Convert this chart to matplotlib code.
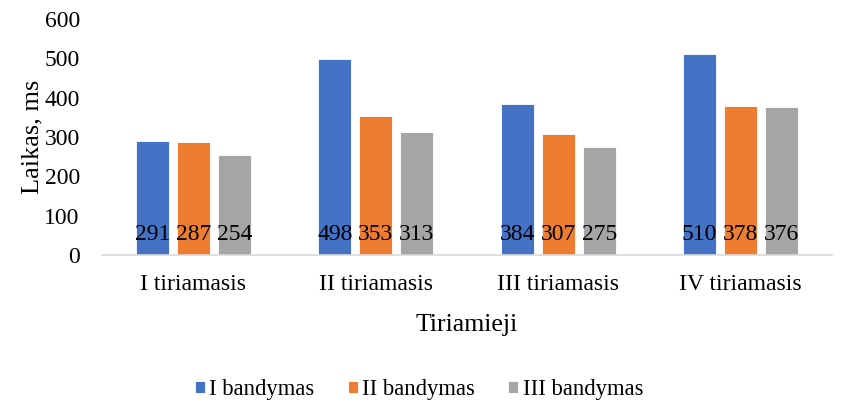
import matplotlib
matplotlib.use("Agg")
import matplotlib.pyplot as plt
import numpy as np

plt.rcParams['font.family'] = ['Liberation Serif', 'DejaVu Serif']

categories = ["I tiriamasis", "II tiriamasis", "III tiriamasis", "IV tiriamasis"]
series_names = ["I bandymas", "II bandymas", "III bandymas"]
trial1 = [291, 498, 384, 510]
trial2 = [287, 353, 307, 378]
trial3 = [254, 313, 275, 376]
colors = ["#4472C4", "#ED7D31", "#A5A5A5"]

fig = plt.figure(figsize=(8.43, 4.03), dpi=100)
ax = fig.add_axes([0.121, 0.367, 0.866, 0.586])

x = np.arange(len(categories))
width = 0.18
step = 0.225
for i, (vals, name, c) in enumerate(zip([trial1, trial2, trial3], series_names, colors)):
    pos = x + (i - 1) * step
    ax.bar(pos, vals, width=width, color=c, label=name, edgecolor="white", linewidth=0.6)
    for p, v in zip(pos, vals):
        ax.text(p, 38, f"{v}", ha="center", va="baseline", fontsize=17, color="black")

ax.set_xlim(-0.5, len(categories) - 0.5)
ax.set_ylim(0, 600)
ax.set_yticks(range(0, 601, 100))
ax.set_xticks(x)
ax.set_xticklabels(categories)
ax.tick_params(axis="both", length=0, labelsize=17)
ax.tick_params(axis="x", pad=13.5)
ax.tick_params(axis="y", pad=16)
for s in ["top", "right", "left"]:
    ax.spines[s].set_visible(False)
ax.spines["bottom"].set_color("#D9D9D9")
ax.spines["bottom"].set_linewidth(1.2)

ax.set_xlabel("Tiriamieji", fontsize=18.5, labelpad=14)
ax.set_ylabel("Laikas, ms", fontsize=19, labelpad=1)

fig.legend(loc="center", bbox_to_anchor=(0.497, 0.033), ncol=3, frameon=False,
           fontsize=16.3, handlelength=0.45, handleheight=0.45, handletextpad=0.2,
           columnspacing=1.45)

fig.savefig("out.png", dpi=100)
